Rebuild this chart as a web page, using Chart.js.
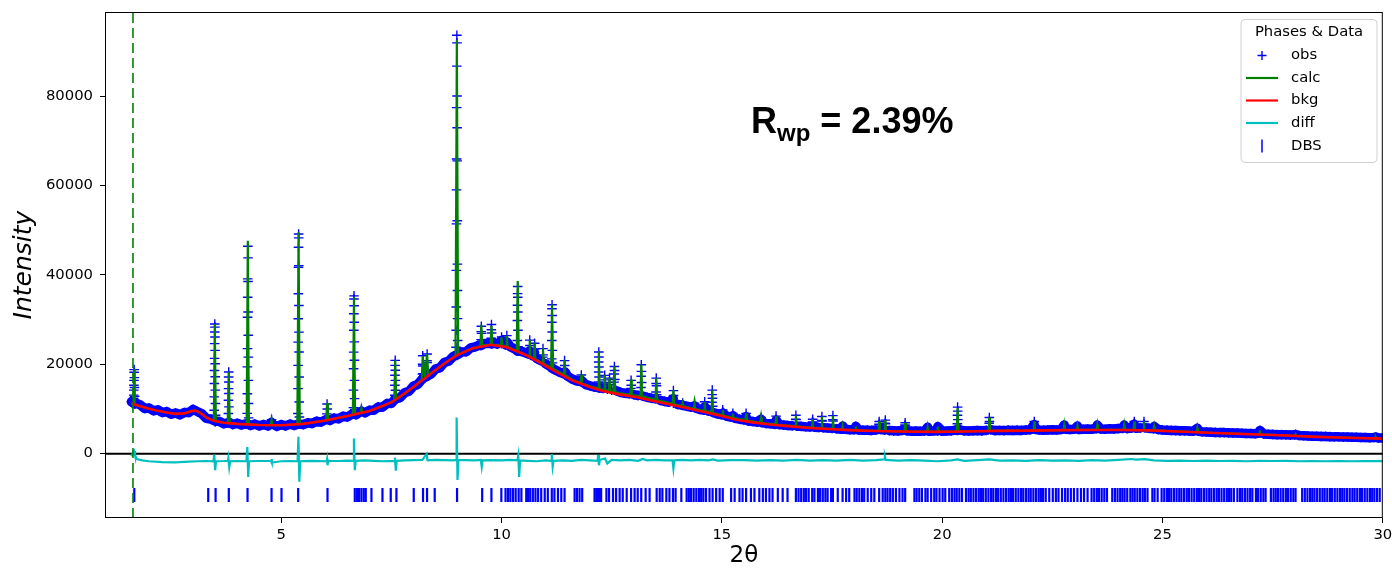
<!DOCTYPE html>
<html>
<head>
<meta charset="utf-8">
<script src="https://cdn.jsdelivr.net/npm/chart.js@4.4.0/dist/chart.umd.min.js"></script>
<style>
  html, body { margin: 0; padding: 0; background: #fff; }
</style>
</head>
<body>
<canvas id="chart" width="1392" height="572"></canvas>
<script>
// ==================================================
// DATA
// ==================================================
const xTicks = [5, 10, 15, 20, 25, 30];
const yTicks = [0, 20000, 40000, 60000, 80000];
const xMin = 1, xMax = 30;
const yMin = -14400, yMax = 98800;
const fitStart = 1.635;      // dashed green line
const tickRowY = -9250;      // where the DBS reflection ticks sit

// background
const bkgPts = [
  [1.60,11200],[1.80,10600],[2.00,10050],[2.20,9600],[2.40,9200],[2.60,8900],[2.80,9000],
  [2.95,9500],[3.05,9650],[3.15,9200],[3.30,8100],[3.45,7400],[3.70,6900],[4.00,6650],
  [4.50,6420],[5.00,6350],[5.50,6650],[6.00,7400],[6.50,8400],[7.00,9550],[7.50,11450],
  [8.00,14900],[8.25,16800],[8.50,18700],[8.75,20500],[9.00,22100],[9.35,23600],[9.75,24350],
  [10.10,23850],[10.50,22300],[10.85,20500],[11.25,18250],[11.60,16400],[12.00,14900],
  [12.30,14000],[12.70,13200],[13.05,12650],[13.40,11900],[13.80,11050],[14.20,10200],
  [14.60,9300],[15.00,8400],[15.30,7650],[15.70,7000],[16.10,6500],[16.50,6150],[17.00,5750],
  [17.50,5450],[18.00,5200],[18.50,5050],[19.00,4950],[19.80,4870],[20.50,4950],[21.30,5090],
  [22.00,5150],[22.80,5250],[23.30,5300],[24.00,5280],[24.70,5200],[25.50,4900],[26.20,4600],
  [27.00,4350],[27.80,4050],[28.50,3750],[29.20,3550],[30.00,3350]
];

// calculated profile
const calcPts = [
  [1.60,11200],[1.645,11050],[1.660,19000],[1.675,10900],[1.80,10600],[2.00,10050],[2.20,9600],
  [2.40,9200],[2.60,8900],[2.80,9000],[2.95,9500],[3.05,9650],[3.15,9200],[3.30,8100],[3.45,7400],
  [3.470,7350],[3.492,29000],[3.515,7250],[3.70,6900],[3.785,6850],[3.808,18300],[3.830,6800],
  [4.00,6650],[4.215,6560],[4.241,47600],[4.265,6540],[4.50,6420],[4.760,6360],[4.780,7600],
  [4.800,6360],[5.00,6350],[5.365,6560],[5.393,49500],[5.420,6600],[5.70,6930],[6.020,7450],
  [6.040,11300],[6.060,7500],[6.30,8000],[6.625,8650],[6.651,35000],[6.675,8800],[6.800,9080],
  [6.820,10200],[6.840,9130],[7.00,9550],[7.30,10600],[7.565,11900],[7.586,20900],[7.610,12150],
  [7.80,13400],[8.00,14900],[8.190,16550],[8.211,21800],[8.260,17000],[8.311,22300],[8.335,17450],
  [8.50,18700],[8.75,20500],[8.955,21900],[8.985,92500],[9.015,22150],[9.35,23600],[9.520,24000],
  [9.541,28800],[9.560,24200],[9.750,24400],[9.771,28600],[9.790,24400],[9.985,24300],[10.000,26000],
  [10.015,24200],[10.105,24000],[10.120,26400],[10.135,23950],[10.345,22900],[10.366,38600],
  [10.390,22750],[10.625,21800],[10.640,25500],[10.655,21700],[10.735,21300],[10.750,24800],
  [10.765,21200],[10.925,20300],[10.940,23600],[10.955,20200],[11.125,19200],[11.146,33400],
  [11.170,19000],[11.415,17700],[11.430,21000],[11.445,17600],[11.60,16600],[11.795,15800],
  [11.810,17700],[11.825,15750],[12.00,15100],[12.190,14600],[12.207,22900],[12.225,14500],
  [12.325,14300],[12.340,17700],[12.355,14200],[12.435,14050],[12.450,17000],[12.465,14000],
  [12.540,13900],[12.561,19600],[12.580,13800],[12.70,13500],[12.925,13200],[12.940,16600],
  [12.955,13100],[13.155,12900],[13.171,20000],[13.190,12800],[13.40,12300],[13.495,12100],
  [13.511,17000],[13.530,12000],[13.885,11200],[13.900,14200],[13.915,11100],[14.095,10700],
  [14.110,11300],[14.125,10650],[14.365,10100],[14.380,11300],[14.395,10050],[14.595,9600],
  [14.610,11600],[14.625,9550],[14.765,9250],[14.782,14300],[14.800,9150],[15.005,8650],
  [15.020,9800],[15.035,8600],[15.235,8050],[15.250,9000],[15.265,8000],[15.535,7500],
  [15.550,9000],[15.565,7450],[15.875,6950],[15.890,8100],[15.905,6900],[16.215,6550],
  [16.230,8400],[16.245,6500],[16.665,6150],[16.680,8600],[16.695,6100],[17.045,5850],
  [17.060,7700],[17.075,5800],[17.255,5700],[17.270,8300],[17.285,5650],[17.505,5550],
  [17.520,8500],[17.535,5500],[17.725,5400],[17.740,6200],[17.755,5350],[18.025,5250],
  [18.040,6100],[18.055,5200],[18.555,5100],[18.570,7200],[18.585,5080],[18.695,5060],
  [18.710,7500],[18.725,5050],[19.145,4980],[19.160,6900],[19.175,4970],[19.655,4920],
  [19.670,5900],[19.685,4910],[19.885,4910],[19.900,6050],[19.915,4910],[20.330,4960],
  [20.350,10200],[20.370,4960],[21.055,5080],[21.070,8100],[21.085,5080],[22.075,5200],
  [22.090,7200],[22.105,5200],[22.755,5280],[22.770,6400],[22.785,5280],[23.055,5300],
  [23.070,6200],[23.085,5300],[23.505,5340],[23.520,6400],[23.535,5340],[24.115,5320],
  [24.130,6400],[24.145,5320],[24.345,5300],[24.360,7200],[24.375,5300],[24.565,5280],
  [24.580,7200],[24.595,5270],[24.795,5220],[24.810,6100],[24.825,5200],[25.50,4920],
  [25.775,4800],[25.790,5700],[25.805,4790],[26.20,4620],[27.00,4370],[27.195,4300],
  [27.210,5200],[27.225,4290],[27.80,4070],[28.005,3980],[28.020,4300],[28.035,3970],
  [28.50,3770],[29.20,3570],[29.825,3390],[29.840,3700],[29.855,3385],[30.00,3360]
];

// observed points between reflections
const obsBand = [
  [1.6,11600],[1.7,11300],[1.8,10900],[1.9,10100],[2.0,10200],[2.1,9600],[2.2,9800],[2.3,9200],
  [2.4,9400],[2.5,8800],[2.6,9100],[2.7,8700],[2.8,9200],[2.9,9200],[3.0,9900],[3.1,9400],
  [3.2,8900],[3.3,7900],[3.4,7700],[3.5,7100],[3.6,7200],[3.7,6700],[3.8,6900],[3.9,6500],
  [4.0,6800],[4.1,6400],[4.2,6700],[4.3,6300],[4.4,6600],[4.5,6200],[4.6,6500],[4.7,6200],
  [4.8,6600],[4.9,6100],[5.0,6500],[5.1,6200],[5.2,6600],[5.3,6300],[5.4,6700],[5.5,6500],
  [5.6,6900],[5.7,6750],[5.8,7250],[5.9,7050],[6.0,7550],[6.1,7400],[6.2,7950],[6.3,7800],
  [6.4,8350],[6.5,8200],[6.6,8800],[6.7,8700],[6.8,9400],[6.9,9150],[7.0,9700],[7.1,9700],
  [7.2,10450],[7.3,10400],[7.4,11200],[7.5,11250],[7.6,12300],[7.7,12550],[7.8,13600],[7.9,13950],
  [8.0,15100],[8.1,15500],[8.2,16700],[8.3,17400],[8.4,17800],[8.5,18900],[8.6,19200],[8.7,20400],
  [8.8,20700],[8.9,21700],[9.0,21950],[9.1,22750],[9.2,22800],[9.3,23650],[9.4,23900],[9.5,24300],
  [9.6,24600],[9.7,24700],[9.8,24900],[9.9,24500],[10.0,24600],[10.1,24300],[10.2,23900],
  [10.3,23400],[10.4,23000],[10.5,22700],[10.6,22300],[10.7,21900],[10.8,21300],[10.9,20800],
  [11.0,20100],[11.1,19500],[11.2,18800],[11.3,18300],[11.4,17900],[11.5,17300],[11.6,16700],
  [11.7,16300],[11.8,16100],[11.9,15500],[12.0,15200],[12.1,14900],[12.2,14800],[12.3,14600],
  [12.4,14400],[12.5,14200],[12.6,14100],[12.7,13700],[12.8,13500],[12.9,13400],[13.0,13200],
  [13.1,13000],[13.2,12900],[13.3,12600],[13.4,12400],[13.5,12300],[13.6,11900],[13.7,11700],
  [13.8,11500],[13.9,11300],[14.0,11000],[14.1,10900],[14.2,10600],[14.3,10400],[14.4,10200],
  [14.5,9900],[14.6,9700],[14.7,9500],[14.8,9200],[14.9,8900],[15.0,8700],[15.1,8400],[15.2,8200],
  [15.3,7900],[15.4,7700],[15.5,7550],[15.6,7300],[15.7,7200],[15.8,7050],[15.9,6950],[16.0,6750],
  [16.1,6700],[16.2,6550],[16.3,6500],[16.4,6400],[16.5,6300],[16.6,6250],[16.7,6150],[16.8,6100],
  [16.9,6000],[17.0,5950],[17.1,5900],[17.2,5850],[17.3,5800],[17.4,5750],[17.5,5650],[17.6,5550],
  [17.7,5450],[17.8,5450],[17.9,5350],[18.0,5350],[18.1,5300],[18.2,5250],[18.3,5250],[18.4,5200],
  [18.5,5300],[18.6,5400],[18.7,5300],[18.8,5150],[18.9,5100],[19.0,5050],[19.1,5200],[19.2,5100],
  [19.3,5000],[19.4,5050],[19.5,5000],[19.6,5050],[19.7,5000],[19.8,5050],[19.9,5100],[20.0,5000],
  [20.1,5050],[20.2,5100],[20.3,5250],[20.4,5300],[20.5,5100],[20.6,5050],[20.7,5100],[20.8,5150],
  [20.9,5100],[21.0,5200],[21.1,5350],[21.2,5150],[21.3,5200],[21.4,5150],[21.5,5250],[21.6,5200],
  [21.7,5250],[21.8,5200],[21.9,5300],[22.0,5350],[22.1,5450],[22.2,5300],[22.3,5250],[22.4,5300],
  [22.5,5350],[22.6,5300],[22.7,5400],[22.8,5450],[22.9,5400],[23.0,5450],[23.1,5400],[23.2,5450],
  [23.3,5500],[23.4,5450],[23.5,5600],[23.6,5500],[23.7,5450],[23.8,5550],[23.9,5500],[24.0,5600],
  [24.1,5650],[24.2,5600],[24.3,5750],[24.4,5700],[24.5,5750],[24.6,5800],[24.7,5650],[24.8,5550],
  [24.9,5400],[25.0,5300],[25.1,5250],[25.2,5200],[25.3,5150],[25.4,5100],[25.5,5100],[25.6,5050],
  [25.7,5000],[25.8,5050],[25.9,4900],[26.0,4850],[26.1,4800],[26.2,4750],[26.3,4700],[26.4,4700],
  [26.5,4650],[26.6,4600],[26.7,4600],[26.8,4550],[26.9,4500],[27.0,4500],[27.1,4450],[27.2,4600],
  [27.3,4400],[27.4,4350],[27.5,4300],[27.6,4250],[27.7,4250],[27.8,4200],[27.9,4150],[28.0,4200],
  [28.1,4050],[28.2,4000],[28.3,3950],[28.4,3900],[28.5,3900],[28.6,3850],[28.7,3850],[28.8,3800],
  [28.9,3750],[29.0,3750],[29.1,3700],[29.2,3700],[29.3,3650],[29.4,3650],[29.5,3600],[29.6,3600],
  [29.7,3550],[29.8,3600],[29.9,3500],[30.0,3500]
];

// observed points on the reflections
const obsPeaks = [
  [1.645,11300],[1.650,12400],[1.652,13100],[1.654,14200],[1.656,15300],[1.658,16400],[1.660,18200],
  [1.662,18800],[1.665,17000],[1.668,14800],[1.672,12800],[1.677,11100],
  [3.475,7400],[3.478,9700],[3.480,12700],[3.482,15700],[3.484,18600],[3.486,21300],[3.488,24600],
  [3.490,27200],[3.492,29000],[3.494,28300],[3.496,26100],[3.498,23100],[3.500,20100],[3.502,17200],
  [3.504,14200],[3.506,11200],[3.509,8600],[3.513,7300],
  [3.797,6900],[3.800,8970],[3.802,11940],[3.804,14550],[3.806,17150],[3.808,18260],[3.810,16030],
  [3.812,13440],[3.814,10450],[3.818,7000],
  [4.225,6600],[4.228,9000],[4.230,13400],[4.232,19400],[4.234,23500],[4.236,30500],[4.238,35000],
  [4.240,39100],[4.242,46400],[4.244,43800],[4.246,38500],[4.248,31700],[4.250,26500],[4.252,21600],
  [4.254,16400],[4.256,11200],[4.260,8000],[4.264,6500],
  [4.776,7000],[4.780,7600],[4.784,6900],
  [5.375,6600],[5.378,8970],[5.380,14550],[5.382,19750],[5.384,24950],[5.386,30180],[5.388,35760],
  [5.390,41700],[5.392,46160],[5.394,49150],[5.396,48260],[5.398,42070],[5.400,33150],[5.402,27190],
  [5.404,22720],[5.406,17150],[5.408,11560],[5.412,8200],[5.416,6600],
  [6.035,8900],[6.040,11100],[6.045,10000],[6.050,7700],
  [6.635,8800],[6.638,10300],[6.640,14200],[6.642,19000],[6.644,22700],[6.646,27600],[6.648,31300],
  [6.650,34600],[6.652,35300],[6.654,33100],[6.656,29400],[6.658,25000],[6.660,20900],[6.662,16400],
  [6.664,12300],[6.668,9900],[6.672,8800],
  [6.815,9400],[6.820,10000],[6.826,9500],
  [7.575,12100],[7.578,13060],[7.580,15300],[7.582,17520],[7.584,19750],[7.586,20870],[7.588,18640],
  [7.590,16400],[7.592,14170],[7.596,12800],[7.600,12200],
  [8.200,16600],[8.205,17800],[8.208,20000],[8.211,21900],[8.214,19600],[8.218,17900],[8.222,16900],
  [8.300,17200],[8.305,18400],[8.308,20800],[8.311,22300],[8.314,20400],[8.318,18500],[8.322,17400],
  [8.965,22000],[8.968,23800],[8.970,27600],[8.972,32800],[8.974,41000],[8.976,51400],[8.978,59000],
  [8.980,65900],[8.982,77400],[8.984,86700],[8.986,93600],[8.988,91900],[8.990,80000],[8.992,72900],
  [8.994,65500],[8.996,52100],[8.998,42400],[9.000,36500],[9.002,30200],[9.004,25300],[9.008,22800],
  [9.012,22200],
  [9.530,24200],[9.535,25500],[9.538,27300],[9.541,28500],[9.545,26900],[9.549,25100],[9.555,24300],
  [9.760,24600],[9.765,25800],[9.768,27700],[9.771,28900],[9.775,27000],[9.779,25400],[9.785,24600],
  [9.997,25300],[10.000,26100],[10.004,25200],
  [10.117,25200],[10.120,26400],[10.124,25000],
  [10.355,23000],[10.358,25300],[10.360,29800],[10.362,33200],[10.364,35800],[10.366,37400],
  [10.368,35000],[10.370,31700],[10.372,27600],[10.376,23900],[10.380,22900],
  [10.636,23000],[10.640,25400],[10.644,24200],[10.648,22500],
  [10.746,22600],[10.750,24700],[10.754,23400],
  [10.936,21600],[10.940,23500],[10.944,22100],
  [11.135,19200],[11.138,21200],[11.140,25300],[11.142,29400],[11.144,32400],[11.146,33300],
  [11.148,30900],[11.150,27200],[11.152,23100],[11.156,20300],[11.160,19100],
  [11.426,18600],[11.430,20800],[11.434,19700],[11.438,18300],
  [11.806,16600],[11.810,17600],[11.814,16400],
  [12.198,14800],[12.201,16030],[12.203,18260],[12.205,20490],[12.207,22720],[12.209,21610],
  [12.211,19370],[12.213,17150],[12.217,15300],[12.222,14700],
  [12.336,15800],[12.340,17500],[12.344,16500],
  [12.446,15400],[12.450,16900],[12.454,15900],
  [12.555,16000],[12.558,17800],[12.561,19500],[12.565,18600],[12.569,16600],
  [12.936,14600],[12.940,16400],[12.944,15300],
  [13.165,14800],[13.168,17300],[13.171,19900],[13.175,18400],[13.179,15900],
  [13.505,13800],[13.508,15700],[13.511,16900],[13.515,15200],[13.519,13200],
  [13.896,12300],[13.900,14100],[13.904,13000],
  [14.107,10900],[14.110,11300],[14.114,10800],
  [14.377,10700],[14.380,11300],[14.384,10600],
  [14.606,10400],[14.610,11600],[14.614,10500],
  [14.776,11500],[14.779,13200],[14.782,14200],[14.786,12400],[14.790,10600],
  [15.017,9300],[15.020,9800],[15.024,9100],
  [15.247,8500],[15.250,9000],[15.254,8400],
  [15.547,8300],[15.550,9000],[15.554,8200],
  [15.886,7700],[15.890,8100],[15.894,7500],
  [16.226,7600],[16.230,8400],[16.234,7500],
  [16.676,7700],[16.680,8600],[16.684,7600],
  [17.056,7100],[17.060,7700],[17.064,7000],
  [17.266,7400],[17.270,8300],[17.274,7300],
  [17.516,7600],[17.520,8500],[17.524,7300],
  [17.740,6200],[18.040,6100],
  [18.566,6600],[18.570,7200],[18.574,6500],
  [18.706,6800],[18.710,7500],[18.714,6700],
  [19.156,6400],[19.160,6900],[19.164,6200],
  [19.670,5900],[19.900,6050],
  [20.342,5200],[20.345,6700],[20.347,8600],[20.350,10400],[20.353,9500],[20.356,7600],[20.360,5600],
  [21.066,6800],[21.070,8100],[21.074,7200],
  [22.086,6500],[22.090,7200],[22.094,6300],
  [22.770,6400],[23.070,6200],[23.520,6400],[24.130,6400],
  [24.356,6600],[24.360,7200],[24.580,7200],[24.584,6600],
  [24.810,6100],[25.790,5700],[27.210,5200],[28.020,4300],[29.840,3700]
];

// difference curve (already shifted down as plotted)
const diffPts = [
  [1.60,-600],[1.64,300],[1.66,600],[1.68,-300],[1.72,-1200],[1.85,-1500],[2.0,-1700],[2.3,-1900],
  [2.6,-1950],[2.9,-1800],[3.1,-1700],[3.3,-1650],[3.46,-1750],[3.48,-200],[3.50,-3700],[3.52,-1700],
  [3.7,-1650],[3.79,-1600],[3.80,-1000],[3.82,-3000],[3.84,-1700],[4.0,-1650],[4.21,-1700],
  [4.23,1500],[4.25,-5200],[4.27,-1700],[4.5,-1650],[4.77,-1600],[4.78,-1200],[4.79,-2000],
  [5.0,-1700],[5.2,-1650],[5.37,-1700],[5.39,3750],[5.41,-6300],[5.43,-1700],[5.7,-1600],
  [6.03,-1700],[6.04,-1200],[6.05,-2600],[6.07,-1600],[6.3,-1650],[6.5,-1550],[6.63,-1600],
  [6.65,3400],[6.67,-3700],[6.69,-1600],[6.9,-1500],[7.1,-1600],[7.3,-1700],[7.57,-1600],
  [7.58,-900],[7.60,-3800],[7.62,-1600],[7.8,-1500],[8.0,-1450],[8.2,-1400],[8.30,-100],
  [8.32,-1500],[8.5,-1400],[8.7,-1450],[8.9,-1500],[8.97,-1400],[8.98,8100],[9.00,-5900],
  [9.02,-1400],[9.2,-1450],[9.4,-1500],[9.53,-1400],[9.55,-2950],[9.57,-1500],[9.8,-1450],
  [10.0,-1500],[10.2,-1400],[10.36,-1500],[10.38,-400],[10.40,-5200],[10.42,-1500],[10.6,-1600],
  [10.8,-1700],[11.0,-1500],[11.13,-1600],[11.14,-100],[11.16,-2900],[11.18,-1600],[11.4,-1500],
  [11.6,-1600],[11.8,-1400],[12.0,-1500],[12.18,-1600],[12.19,-300],[12.21,-2600],[12.23,-1400],
  [12.35,-1100],[12.4,-2200],[12.5,-1400],[12.7,-1500],[12.9,-1400],[13.1,-1600],[13.2,-1200],
  [13.3,-1500],[13.5,-1400],[13.7,-1500],[13.88,-1500],[13.90,-3300],[13.92,-1500],[14.1,-1400],
  [14.3,-1500],[14.5,-1400],[14.7,-1500],[14.8,-1300],[14.9,-1550],[15.2,-1450],[15.5,-1450],
  [15.8,-1550],[16.1,-1450],[16.4,-1550],[16.7,-1400],[17.0,-1550],[17.3,-1450],[17.6,-1550],
  [17.9,-1400],[18.2,-1550],[18.5,-1450],[18.68,-1300],[18.70,-600],[18.72,-1400],[19.0,-1550],
  [19.3,-1450],[19.6,-1550],[19.9,-1700],[20.2,-1500],[20.35,-1300],[20.5,-1600],[20.8,-1450],
  [21.07,-1300],[21.3,-1550],[21.6,-1500],[21.9,-1600],[22.2,-1450],[22.5,-1550],[22.8,-1500],
  [23.1,-1600],[23.4,-1450],[23.7,-1550],[24.0,-1400],[24.3,-1200],[24.4,-1350],[24.6,-1250],
  [24.8,-1500],[25.1,-1600],[25.4,-1550],[25.7,-1650],[26.0,-1550],[26.3,-1650],[26.6,-1600],
  [26.9,-1700],[27.2,-1600],[27.5,-1650],[27.8,-1600],[28.1,-1700],[28.4,-1650],[28.7,-1700],
  [29.0,-1650],[29.3,-1700],[29.6,-1650],[30.0,-1680]
];

// reflection positions of the DBS phase
const dbsPos = [
  1.665,3.343,3.51,3.81,4.235,4.78,5.006,5.384,6.05,6.669,6.722,6.767,6.82,6.873,6.918,7.047,7.297,
  7.485,7.614,8.007,8.218,8.309,8.483,8.99,9.56,9.77,9.995,10.09,10.145,10.2,10.26,10.32,10.388,
  10.45,10.56,10.6,10.65,10.71,10.77,10.83,10.9,10.98,11.05,11.14,11.2,11.28,11.356,11.43,11.658,
  11.71,11.77,11.83,12.11,12.15,12.19,12.22,12.26,12.38,12.44,12.53,12.60,12.68,12.75,12.84,12.94,
  13.02,13.09,13.17,13.27,13.36,13.52,13.59,13.65,13.74,13.81,13.89,13.95,14.08,14.20,14.25,14.30,
  14.36,14.42,14.48,14.53,14.58,14.64,14.72,14.79,14.87,14.95,15.02,15.21,15.29,15.40,15.47,15.55,
  15.66,15.74,15.85,15.93,16.00,16.08,16.15,16.27,16.38,16.49,16.68,16.74,16.80,16.86,16.91,16.97,
  17.05,17.10,17.18,17.23,17.29,17.35,17.40,17.48,17.52,17.63,17.74,17.82,17.89,18.01,18.06,18.12,
  18.18,18.23,18.31,18.39,18.46,18.57,18.65,18.71,18.76,18.82,18.88,18.95,19.03,19.10,19.16,19.37,
  19.42,19.48,19.54,19.62,19.67,19.75,19.82,19.87,19.94,20.01,20.07,20.16,20.22,20.28,20.33,20.39,
  20.45,20.54,20.60,20.65,20.71,20.77,20.83,20.88,20.93,20.99,21.05,21.11,21.16,21.22,21.27,21.33,
  21.39,21.45,21.51,21.56,21.61,21.67,21.73,21.79,21.84,21.90,21.96,22.01,22.07,22.13,22.19,22.24,
  22.29,22.35,22.43,22.51,22.58,22.64,22.72,22.79,22.85,22.92,22.99,23.07,23.15,23.22,23.30,23.39,
  23.45,23.51,23.56,23.62,23.68,23.74,23.86,23.92,23.98,24.04,24.09,24.14,24.20,24.27,24.32,24.37,
  24.43,24.49,24.55,24.60,24.66,24.77,24.82,24.89,24.98,25.04,25.10,25.15,25.20,25.26,25.32,25.38,
  25.43,25.49,25.55,25.60,25.66,25.72,25.78,25.83,25.88,25.94,26.00,26.06,26.11,26.17,26.23,26.28,
  26.34,26.40,26.46,26.51,26.56,26.62,26.70,26.76,26.81,26.87,26.93,26.99,27.04,27.12,27.17,27.23,
  27.29,27.34,27.46,27.52,27.57,27.62,27.68,27.74,27.80,27.85,27.91,27.97,28.02,28.17,28.23,28.29,
  28.35,28.40,28.45,28.51,28.57,28.63,28.68,28.74,28.80,28.85,28.91,28.97,29.03,29.08,29.13,29.19,
  29.25,29.31,29.36,29.42,29.48,29.53,29.59,29.65,29.71,29.76,29.81,29.87,29.93
];

const legendItems = ["obs", "calc", "bkg", "diff", "DBS"];

// ==================================================
// HELPERS
// ==================================================
const BLUE = "#0000ff", GREEN = "#008000", RED = "#ff0000", CYAN = "#00bfbf";
const FONT = "'DejaVu Sans', sans-serif";

const toXY = (pts) => pts.map((p) => ({ x: p[0], y: p[1] }));
const obsAll = obsBand.concat(obsPeaks).sort((a, b) => a[0] - b[0]);

// band segments are drawn thick, the steep ones on a reflection are left out
const steep = (s) =>
  Math.abs(s.p1.y - s.p0.y) > 1.1 * Math.abs(s.p1.x - s.p0.x) + 1.5;

const fixTicks = (values) => (scale) => {
  scale.ticks = values.map((v) => ({ value: v }));
};

// ==================================================
// PLUGIN: frame, legend, R_wp label
// ==================================================
const decorPlugin = {
  id: "decor",
  afterDraw(chart) {
    const { ctx, chartArea: a } = chart;
    ctx.save();

    // axes frame
    ctx.strokeStyle = "#000";
    ctx.lineWidth = 1;
    ctx.strokeRect(a.left + 0.5, a.top + 0.5, a.right - a.left - 1, a.bottom - a.top - 1);

    // R_wp
    ctx.fillStyle = "#000";
    ctx.textBaseline = "alphabetic";
    ctx.textAlign = "left";
    const big = "bold 36px 'Liberation Sans', Arial, sans-serif";
    const small = "bold 24px 'Liberation Sans', Arial, sans-serif";
    let x = 751;
    ctx.font = big;
    ctx.fillText("R", x, 133);
    x += ctx.measureText("R").width;
    ctx.font = small;
    ctx.fillText("wp", x, 141);
    x += ctx.measureText("wp").width;
    ctx.font = big;
    ctx.fillText(" = 2.39%", x, 133);

    // legend box
    const lx = 1241, ly = 19.5, lw = 136, lh = 143, r = 4;
    ctx.beginPath();
    ctx.moveTo(lx + r, ly);
    ctx.arcTo(lx + lw, ly, lx + lw, ly + lh, r);
    ctx.arcTo(lx + lw, ly + lh, lx, ly + lh, r);
    ctx.arcTo(lx, ly + lh, lx, ly, r);
    ctx.arcTo(lx, ly, lx + lw, ly, r);
    ctx.closePath();
    ctx.fillStyle = "rgba(255,255,255,0.8)";
    ctx.fill();
    ctx.strokeStyle = "#d0d0d0";
    ctx.stroke();

    ctx.fillStyle = "#000";
    ctx.font = "14.8px " + FONT;
    ctx.textBaseline = "middle";
    ctx.textAlign = "center";
    ctx.fillText("Phases & Data", lx + lw / 2, 32.5);

    ctx.textAlign = "left";
    const rowY = [55.5, 78, 100.5, 123, 146];
    const colors = [BLUE, GREEN, RED, CYAN, BLUE];
    legendItems.forEach((label, i) => {
      const y = rowY[i];
      ctx.strokeStyle = colors[i];
      ctx.beginPath();
      if (i === 0) {
        ctx.lineWidth = 1.4;
        ctx.moveTo(1257.5, y); ctx.lineTo(1266.5, y);
        ctx.moveTo(1262, y - 4.5); ctx.lineTo(1262, y + 4.5);
      } else if (i === 4) {
        ctx.lineWidth = 1.5;
        ctx.moveTo(1262, y - 6.5); ctx.lineTo(1262, y + 6.5);
      } else {
        ctx.lineWidth = 2.2;
        ctx.moveTo(1246, y); ctx.lineTo(1278, y);
      }
      ctx.stroke();
      ctx.fillStyle = "#000";
      ctx.fillText(label, 1291, y);
    });

    ctx.restore();
  },
};

// ==================================================
// CHART
// ==================================================
const ctx = document.getElementById("chart").getContext("2d");

new Chart(ctx, {
  type: "scatter",
  data: {
    datasets: [
      {
        label: "fit start",
        data: toXY([[fitStart, yMin], [fitStart, yMax]]),
        showLine: true,
        borderColor: GREEN,
        borderWidth: 1.6,
        borderDash: [10, 5],
        pointRadius: 0,
        order: 0,
      },
      {
        label: "bkg",
        data: toXY(bkgPts),
        showLine: true,
        borderColor: RED,
        borderWidth: 2.6,
        pointRadius: 0,
        order: 1,
      },
      {
        label: "calc",
        data: toXY(calcPts),
        showLine: true,
        borderColor: GREEN,
        borderWidth: 2.2,
        pointRadius: 0,
        order: 2,
      },
      {
        label: "obs",
        data: toXY(obsAll),
        showLine: true,
        borderColor: BLUE,
        borderWidth: 9.5,
        borderJoinStyle: "round",
        borderCapStyle: "round",
        segment: {
          borderColor: (s) => (steep(s) ? "rgba(0,0,255,0)" : BLUE),
        },
        pointStyle: "cross",
        pointRadius: 4.8,
        pointBorderWidth: 1.4,
        pointBorderColor: BLUE,
        pointBackgroundColor: BLUE,
        order: 3,
      },
      {
        label: "diff",
        data: toXY(diffPts),
        showLine: true,
        borderColor: CYAN,
        borderWidth: 2.2,
        pointRadius: 0,
        order: 4,
      },
      {
        label: "zero",
        data: toXY([[xMin, 0], [xMax, 0]]),
        showLine: true,
        borderColor: "#000",
        borderWidth: 2,
        pointRadius: 0,
        order: 5,
      },
      {
        label: "DBS",
        data: dbsPos.map((p) => ({ x: p, y: tickRowY })),
        showLine: false,
        pointStyle: "line",
        rotation: 90,
        pointRadius: 7,
        pointBorderWidth: 2.2,
        pointBorderColor: BLUE,
        order: 6,
      },
    ],
  },
  options: {
    responsive: false,
    animation: false,
    events: [],
    devicePixelRatio: 1,
    elements: { line: { tension: 0 } },
    layout: { padding: { left: 0, right: 8, top: 12, bottom: 0 } },
    plugins: {
      legend: { display: false },
      tooltip: { enabled: false },
    },
    scales: {
      x: {
        type: "linear",
        min: xMin,
        max: xMax,
        afterBuildTicks: fixTicks(xTicks),
        afterFit: (s) => {
          s.height = 54;
          s.paddingLeft = 0;
          s.paddingRight = 0;
        },
        border: { display: false },
        grid: { drawOnChartArea: false, drawTicks: true, tickLength: 5, color: "#000", lineWidth: 1 },
        ticks: {
          color: "#000",
          font: { family: FONT, size: 14.8 },
          padding: 3,
          maxRotation: 0,
          callback: (v) => String(v),
        },
        title: {
          display: true,
          text: "2θ",
          color: "#000",
          font: { family: FONT, size: 23 },
          padding: { top: 0, bottom: 2 },
        },
      },
      y: {
        type: "linear",
        min: yMin,
        max: yMax,
        afterBuildTicks: fixTicks(yTicks),
        afterFit: (s) => {
          s.width = 105;
          s.paddingTop = 0;
          s.paddingBottom = 0;
        },
        border: { display: false },
        grid: { drawOnChartArea: false, drawTicks: true, tickLength: 5, color: "#000", lineWidth: 1 },
        ticks: {
          color: "#000",
          font: { family: FONT, size: 14.8 },
          padding: 7,
          callback: (v) => String(v),
        },
        title: {
          display: true,
          text: "Intensity",
          color: "#000",
          font: { family: FONT, size: 25, style: "italic" },
          padding: { top: 9, bottom: 0 },
        },
      },
    },
  },
  plugins: [decorPlugin],
});
</script>
</body>
</html>
